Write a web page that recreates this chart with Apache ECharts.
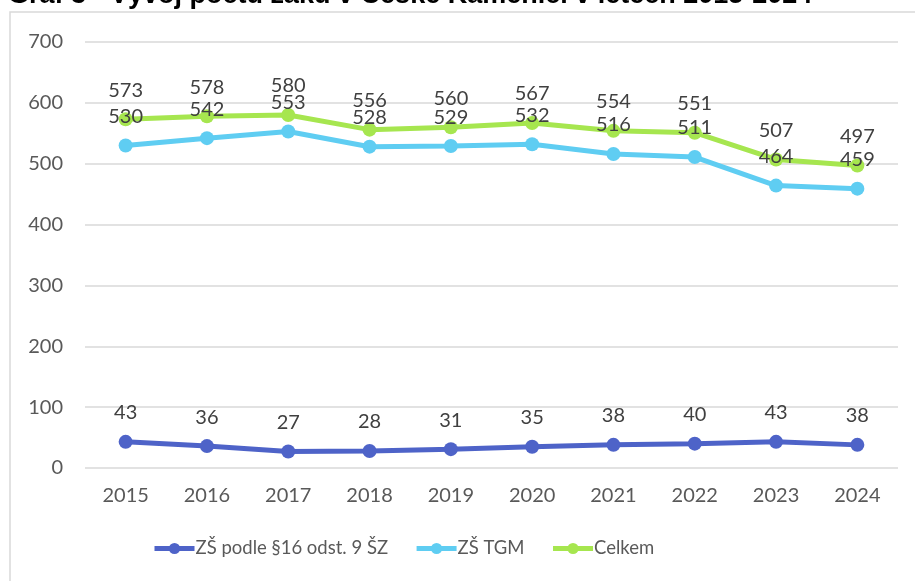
<!DOCTYPE html>
<html>
<head>
<meta charset="utf-8">
<script src="https://cdn.jsdelivr.net/npm/echarts@6/dist/echarts.min.js"></script>
<style>
  html, body { margin: 0; padding: 0; background: #fff; }
  #chart { width: 915px; height: 581px; }
</style>
</head>
<body>
<div id="chart"></div>
<script>
const years = ['2015', '2016', '2017', '2018', '2019', '2020', '2021', '2022', '2023', '2024'];
const zsPodle = [43, 36, 27, 28, 31, 35, 38, 40, 43, 38];
const zsTgm = [530, 542, 553, 528, 529, 532, 516, 511, 464, 459];
const celkem = [573, 578, 580, 556, 560, 567, 554, 551, 507, 497];
const seriesNames = ['ZŠ podle §16 odst. 9 ŠZ', 'ZŠ TGM', 'Celkem'];
const colors = ['#4e63c8', '#5fcdf2', '#a6e64f'];
const yTicks = { min: 0, max: 700, interval: 100 };

const font = 'Lato, "Open Sans", sans-serif';

function lineSeries(name, data, color) {
    return {
        name: name,
        type: 'line',
        data: data,
        symbol: 'circle',
        symbolSize: 14,
        lineStyle: { width: 5, color: color },
        itemStyle: { color: color },
        label: {
            show: true,
            position: 'top',
            distance: 12,
            fontFamily: font,
            fontSize: 20,
            color: '#404040'
        }
    };
}

let myChart = echarts.init(document.getElementById('chart'));
myChart.setOption({
    animation: false,
    color: colors,
    graphic: [
        {
            type: 'rect',
            shape: { x: 10, y: 12, width: 920, height: 580 },
            style: { fill: 'none', stroke: '#d9d9d9', lineWidth: 1.5 },
            z: -1
        },
        {
            type: 'text',
            x: 8,
            y: 9,
            style: {
                text: 'Graf 3 - Vývoj počtu žáků v České Kamenici v letech 2015-2024',
                font: 'bold 27px "Liberation Sans", Arial, sans-serif',
                verticalAlign: 'bottom',
                fill: '#000'
            }
        }
    ],
    grid: { left: 85, right: 17, top: 42, bottom: 113 },
    xAxis: {
        type: 'category',
        data: years,
        boundaryGap: true,
        axisLine: { show: false },
        axisTick: { show: false },
        axisLabel: { fontFamily: font, fontSize: 20, color: '#595959', margin: 18 }
    },
    yAxis: {
        type: 'value',
        min: yTicks.min,
        max: yTicks.max,
        interval: yTicks.interval,
        axisLabel: { fontFamily: font, fontSize: 20, color: '#595959', margin: 22 },
        splitLine: { lineStyle: { color: '#d9d9d9', width: 1.5 } }
    },
    legend: {
        bottom: 18,
        left: 147,
        itemWidth: 40,
        itemHeight: 14,
        itemGap: 26,
        lineStyle: { width: 5 },
        textStyle: { fontFamily: font, fontSize: 18.5, color: '#595959', padding: [0, 0, 0, -4] },
        data: seriesNames
    },
    series: [
        lineSeries(seriesNames[0], zsPodle, colors[0]),
        lineSeries(seriesNames[1], zsTgm, colors[1]),
        lineSeries(seriesNames[2], celkem, colors[2])
    ]
});
</script>
</body>
</html>
